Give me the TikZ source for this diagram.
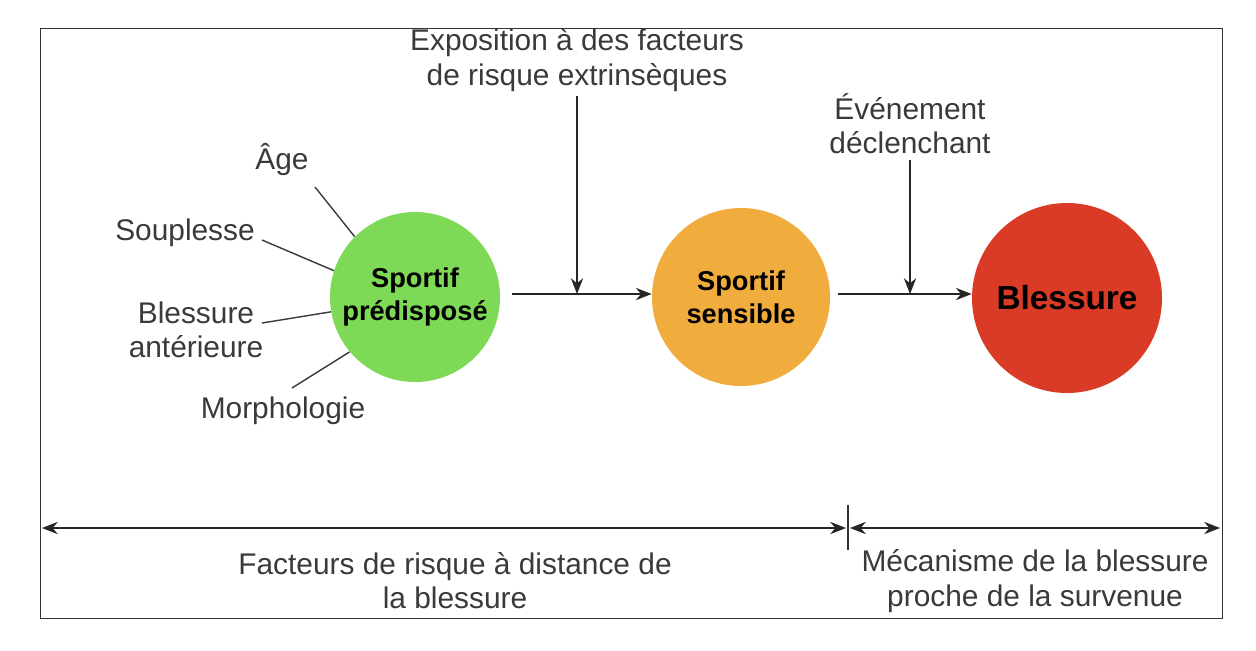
\documentclass[tikz,border=0pt]{standalone}
\usepackage{fontspec}
\setmainfont{Liberation Sans}
\usetikzlibrary{arrows.meta}
\definecolor{cgreen}{HTML}{7ED957}
\definecolor{corange}{HTML}{F0AC3C}
\definecolor{cred}{HTML}{D93B26}
\definecolor{tgray}{HTML}{3A3A3A}
\begin{document}
\begin{tikzpicture}[x=0.02cm,y=-0.02cm,
  lbl/.style={text=tgray,font=\fontsize{17}{19.5}\selectfont,align=center,inner sep=0pt},
  circ/.style={circle,inner sep=0pt,font=\bfseries\fontsize{15.5}{19}\selectfont,align=center},
  arr/.style={-{Stealth[length=9pt,width=7pt]},thick,black!85},
  lnk/.style={draw=tgray,thick}]
\useasboundingbox (0,0) rectangle (1256,650);
\fill[white] (0,0) rectangle (1256,650);
\draw[black!80] (40,28) rectangle (1222,618);
\node[circ,fill=cgreen,minimum size=170*0.02cm] (g) at (415,297) {Sportif\\prédisposé};
\node[circ,fill=corange,minimum size=178*0.02cm] (o) at (741,297) {Sportif\\sensible};
\node[circ,fill=cred,minimum size=190*0.02cm,font=\bfseries\fontsize{19}{22}\selectfont] (r) at (1067,298) {Blessure};
\node[lbl] (ex) at (577,60) {Exposition à des facteurs\\de risque extrinsèques};
\node[lbl] (ev) at (910,124) {Événement\\déclenchant};
\coordinate (m1) at (577,294);
\coordinate (m2) at (910,294);
\draw[arr] ([xshift=0.24cm]g.east |- 0,294) -- (o.west |- 0,294);
\draw[arr] ([xshift=0.16cm]o.east |- 0,294) -- (r.west |- 0,294);
\draw[arr] (ex.south |- 0,96) -- (m1);
\draw[arr] (ev.south |- 0,160) -- (m2);
\node[lbl] (age) at (282,160) {Âge};
\node[lbl] (sou) at (185,233) {Souplesse};
\node[lbl] (bla) at (196,330) {Blessure\\antérieure};
\node[lbl] (mor) at (283,411) {Morphologie};
\draw[lnk] (315,187) -- (g.135);
\draw[lnk] (262,240) -- (g.162);
\draw[lnk] (262,323) -- (g.190);
\draw[lnk] (292,388) -- (g.220);
\coordinate (bl) at (42,528);
\coordinate (bm) at (848,528);
\coordinate (br) at (1220,528);
\draw[black!80,thick] (848,505) -- (848,550);
\draw[black!85,thick,{Stealth[length=9pt,width=7pt]}-{Stealth[length=9pt,width=7pt]}] (bl) -- ([xshift=-0.04cm]bm);
\draw[black!85,thick,{Stealth[length=9pt,width=7pt]}-{Stealth[length=9pt,width=7pt]}] ([xshift=0.04cm]bm) -- (br);
\node[lbl] (f1) at (455,581) {Facteurs de risque à distance de\\la blessure};
\node[lbl] (f2) at (1035,581) {Mécanisme de la blessure\\proche de la survenue};
\end{tikzpicture}
\end{document}
